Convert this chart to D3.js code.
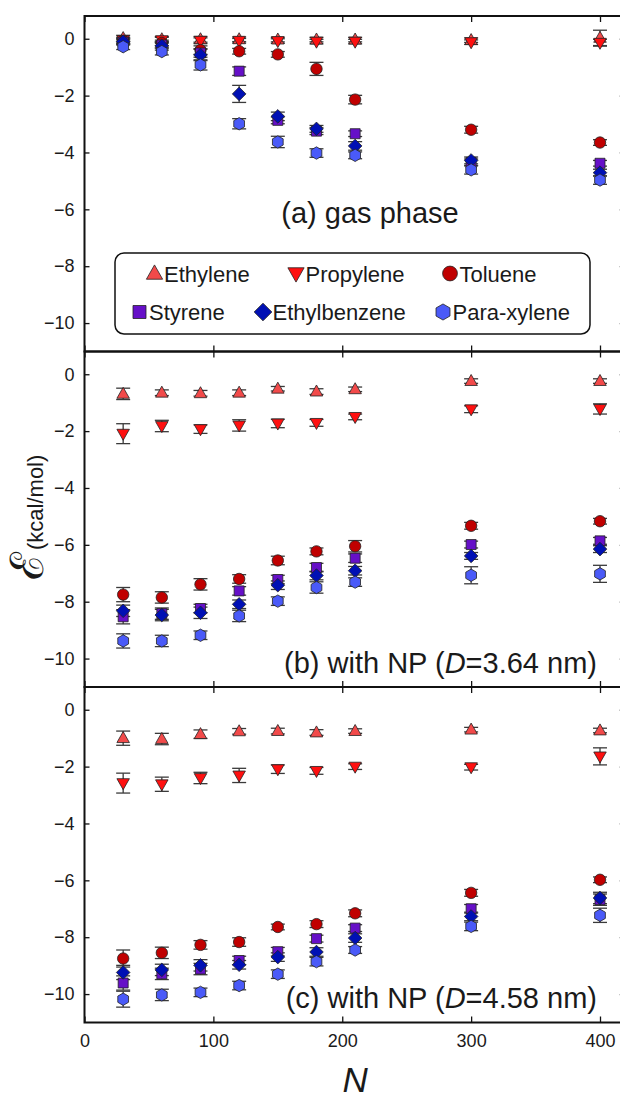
<!DOCTYPE html>
<html>
<head>
<meta charset="utf-8">
<script src="https://cdn.jsdelivr.net/npm/d3@7"></script>
<style>
  body { margin: 0; background: #fff; }
  text { font-family: "Liberation Sans", Arial, sans-serif; fill: #1a1a1a; }
</style>
</head>
<body>
<div id="chart"></div>
<script>
// chain lengths
var chainN = [30, 60, 90, 120, 150, 180, 210, 300, 400];

var speciesNames = ["Ethylene", "Propylene", "Toluene", "Styrene", "Ethylbenzene", "Para-xylene"];
var speciesColors = ["#f24a4a", "#ff1010", "#c00000", "#6610c8", "#0010b4", "#4a5af8"];
var speciesShapes = ["up", "down", "circle", "square", "diamond", "hexagon"];

// (a) gas phase
var gasEthylene     = [0.02, -0.02, -0.02, -0.02, -0.03, -0.03, -0.03, -0.05, 0.03];
var gasPropylene    = [-0.05, -0.05, -0.07, -0.07, -0.08, -0.1, -0.1, -0.12, -0.14];
var gasToluene      = [-0.08, -0.15, -0.4, -0.44, -0.55, -1.06, -2.14, -3.2, -3.65];
var gasStyrene      = [-0.12, -0.22, -0.5, -1.14, -2.87, -3.25, -3.34, -4.35, -4.38];
var gasEthylbenzene = [-0.1, -0.25, -0.57, -1.94, -2.73, -3.17, -3.77, -4.28, -4.71];
var gasParaxylene   = [-0.28, -0.45, -0.92, -2.99, -3.63, -4.02, -4.1, -4.61, -4.97];
var gasErr = [
  [0.1, 0.1, 0.1, 0.08, 0.08, 0.08, 0.08, 0.08, 0.27],
  [0.1, 0.1, 0.1, 0.08, 0.08, 0.08, 0.08, 0.08, 0.12],
  [0.1, 0.1, 0.15, 0.1, 0.1, 0.23, 0.15, 0.12, 0.1],
  [0.1, 0.1, 0.15, 0.15, 0.12, 0.12, 0.1, 0.12, 0.1],
  [0.1, 0.15, 0.2, 0.3, 0.15, 0.12, 0.15, 0.12, 0.12],
  [0.1, 0.12, 0.18, 0.18, 0.2, 0.15, 0.12, 0.15, 0.15]
];

// (b) with NP, D = 3.64 nm
var np364Ethylene     = [-0.69, -0.65, -0.67, -0.65, -0.51, -0.61, -0.53, -0.24, -0.24];
var np364Propylene    = [-2.09, -1.82, -1.93, -1.8, -1.73, -1.71, -1.5, -1.23, -1.22];
var np364Toluene      = [-7.75, -7.85, -7.39, -7.2, -6.55, -6.23, -6.05, -5.33, -5.17];
var np364Styrene      = [-8.53, -8.42, -8.24, -7.62, -7.22, -6.8, -6.47, -5.99, -5.86];
var np364Ethylbenzene = [-8.32, -8.47, -8.39, -8.09, -7.42, -7.08, -6.91, -6.39, -6.15];
var np364Paraxylene   = [-9.38, -9.38, -9.18, -8.5, -7.98, -7.5, -7.31, -7.07, -7.02];
var np364Err = [
  [0.2, 0.1, 0.1, 0.1, 0.08, 0.1, 0.08, 0.08, 0.08],
  [0.35, 0.2, 0.15, 0.2, 0.15, 0.12, 0.1, 0.12, 0.18],
  [0.25, 0.2, 0.2, 0.15, 0.15, 0.12, 0.2, 0.12, 0.1],
  [0.25, 0.2, 0.15, 0.15, 0.15, 0.15, 0.15, 0.12, 0.12],
  [0.2, 0.2, 0.2, 0.15, 0.15, 0.15, 0.15, 0.12, 0.12],
  [0.25, 0.2, 0.15, 0.2, 0.15, 0.2, 0.15, 0.3, 0.3]
];

// (c) with NP, D = 4.58 nm
var np458Ethylene     = [-1.0, -1.03, -0.86, -0.76, -0.75, -0.8, -0.75, -0.7, -0.73];
var np458Propylene    = [-2.58, -2.62, -2.4, -2.31, -2.09, -2.15, -2.0, -2.02, -1.64];
var np458Toluene      = [-8.75, -8.55, -8.27, -8.17, -7.64, -7.54, -7.16, -6.44, -5.98];
var np458Styrene      = [-9.61, -9.29, -9.12, -8.82, -8.51, -8.05, -7.68, -7.0, -6.68];
var np458Ethylbenzene = [-9.24, -9.15, -8.99, -8.97, -8.7, -8.52, -8.03, -7.27, -6.62];
var np458Paraxylene   = [-10.18, -10.03, -9.94, -9.7, -9.3, -8.86, -8.45, -7.62, -7.23];
var np458Err = [
  [0.25, 0.2, 0.15, 0.1, 0.1, 0.1, 0.08, 0.08, 0.08],
  [0.35, 0.25, 0.2, 0.25, 0.15, 0.12, 0.1, 0.1, 0.3],
  [0.3, 0.2, 0.15, 0.15, 0.1, 0.12, 0.12, 0.12, 0.1],
  [0.25, 0.2, 0.2, 0.15, 0.15, 0.12, 0.12, 0.15, 0.2],
  [0.25, 0.2, 0.2, 0.15, 0.15, 0.15, 0.15, 0.15, 0.2],
  [0.28, 0.2, 0.15, 0.15, 0.15, 0.15, 0.12, 0.15, 0.25]
];

var xTicks = [0, 100, 200, 300, 400];
var yTicks = [-10, -8, -6, -4, -2, 0];

var panels = [
  {series: [gasEthylene, gasPropylene, gasToluene, gasStyrene, gasEthylbenzene, gasParaxylene], err: gasErr},
  {series: [np364Ethylene, np364Propylene, np364Toluene, np364Styrene, np364Ethylbenzene, np364Paraxylene], err: np364Err},
  {series: [np458Ethylene, np458Propylene, np458Toluene, np458Styrene, np458Ethylbenzene, np458Paraxylene], err: np458Err}
];

var width = 620, height = 1099;
var panelTop = 16, panelHeight = 335.5;

var svg = d3.select("#chart").append("svg")
  .attr("width", width)
  .attr("height", height);

var x = d3.scaleLinear().domain([0, 420]).range([84.5, 84.5 + 420 * 1.28875]);

// marker shapes, s scales the size
function shapePath(kind, s) {
  var p = d3.path();
  if (kind == "up" || kind == "down") {
    var w = 12.5 * s, h = 11 * s, k = kind == "up" ? 1 : -1;
    p.moveTo(0, -k * h * 0.6);
    p.lineTo(w / 2, k * h * 0.4);
    p.lineTo(-w / 2, k * h * 0.4);
    p.closePath();
  } else if (kind == "circle") {
    p.arc(0, 0, 5.7 * s, 0, 2 * Math.PI);
  } else if (kind == "square") {
    var a = 5 * s;
    p.rect(-a, -a, 2 * a, 2 * a);
  } else if (kind == "diamond") {
    var d = 6.8 * s;
    p.moveTo(0, -d); p.lineTo(d, 0); p.lineTo(0, d); p.lineTo(-d, 0); p.closePath();
  } else {
    var r = 6.2 * s;
    for (var i = 0; i < 6; i++) {
      var ang = Math.PI / 3 * i - Math.PI / 2;
      if (i == 0) p.moveTo(r * Math.cos(ang), r * Math.sin(ang));
      else p.lineTo(r * Math.cos(ang), r * Math.sin(ang));
    }
    p.closePath();
  }
  return p.toString();
}

panels.forEach(function(panel, pi) {
  var top = panelTop + pi * panelHeight;
  var y = d3.scaleLinear().domain([-11, 0.8]).range([top + panelHeight, top]);
  var g = svg.append("g");

  // error bars first
  panel.series.forEach(function(vals, si) {
    var pts = chainN.map(function(n, i) { return {n: n, v: vals[i], e: panel.err[si][i]}; });
    var eb = g.append("g").selectAll("g").data(pts).enter().append("g")
      .attr("stroke", "#3a3a3a").attr("stroke-width", 1.3);
    eb.append("line")
      .attr("x1", d => x(d.n)).attr("x2", d => x(d.n))
      .attr("y1", d => y(d.v - d.e)).attr("y2", d => y(d.v + d.e));
    eb.append("line")
      .attr("x1", d => x(d.n) - 7).attr("x2", d => x(d.n) + 7)
      .attr("y1", d => y(d.v - d.e)).attr("y2", d => y(d.v - d.e));
    eb.append("line")
      .attr("x1", d => x(d.n) - 7).attr("x2", d => x(d.n) + 7)
      .attr("y1", d => y(d.v + d.e)).attr("y2", d => y(d.v + d.e));
  });

  // markers
  panel.series.forEach(function(vals, si) {
    g.append("g").selectAll("path").data(vals).enter().append("path")
      .attr("d", shapePath(speciesShapes[si], 1))
      .attr("transform", (d, i) => "translate(" + x(chainN[i]) + "," + y(d) + ")")
      .attr("fill", speciesColors[si])
      .attr("stroke", "#222")
      .attr("stroke-width", 0.8);
  });

  // axes, ticks pointing inward
  var yAxis = svg.append("g")
    .attr("transform", "translate(" + x(0) + ",0)")
    .call(d3.axisLeft(y).tickValues(yTicks).tickSizeInner(-5).tickSizeOuter(0).tickPadding(10));
  yAxis.select(".domain").remove();
  yAxis.selectAll("text").style("font-size", "18px").style("font-family", "Liberation Sans, Arial, sans-serif").attr("fill", "#1a1a1a");
  yAxis.selectAll("line").attr("stroke", "#111").attr("stroke-width", 1.3);

  var yRight = svg.append("g")
    .attr("transform", "translate(" + x(420) + ",0)")
    .call(d3.axisRight(y).tickValues(yTicks).tickSizeInner(-6).tickSizeOuter(0).tickFormat(""));
  yRight.select(".domain").remove();
  yRight.selectAll("line").attr("stroke", "#111").attr("stroke-width", 1.3);

  var xTop = svg.append("g")
    .attr("transform", "translate(0," + top + ")")
    .call(d3.axisTop(x).tickValues(xTicks).tickSizeInner(-6).tickSizeOuter(0).tickFormat(""));
  xTop.select(".domain").remove();
  xTop.selectAll("line").attr("stroke", "#111").attr("stroke-width", 1.3);

  var xBottom = svg.append("g")
    .attr("transform", "translate(0," + (top + panelHeight) + ")")
    .call(d3.axisBottom(x).tickValues(xTicks).tickSizeInner(-6).tickSizeOuter(0).tickPadding(12)
      .tickFormat(pi == 2 ? d3.format("d") : ""));
  xBottom.select(".domain").remove();
  xBottom.selectAll("line").attr("stroke", "#111").attr("stroke-width", 1.3);
  xBottom.selectAll("text").style("font-size", "18px").style("font-family", "Liberation Sans, Arial, sans-serif").attr("fill", "#1a1a1a");

  // frame
  svg.append("rect")
    .attr("x", x(0)).attr("y", top)
    .attr("width", x(420) - x(0)).attr("height", panelHeight)
    .attr("fill", "none").attr("stroke", "#111").attr("stroke-width", 2);
});

// panel captions
svg.append("text").attr("x", 370).attr("y", 223).attr("text-anchor", "middle")
  .style("font-size", "29px").text("(a) gas phase");

var capB = svg.append("text").attr("x", 597).attr("y", 673).attr("text-anchor", "end").style("font-size", "29px");
capB.append("tspan").text("(b) with NP (");
capB.append("tspan").style("font-style", "italic").text("D");
capB.append("tspan").text("=3.64 nm)");

var capC = svg.append("text").attr("x", 597).attr("y", 1008).attr("text-anchor", "end").style("font-size", "29px");
capC.append("tspan").text("(c) with NP (");
capC.append("tspan").style("font-style", "italic").text("D");
capC.append("tspan").text("=4.58 nm)");

// legend
svg.append("rect")
  .attr("x", 115).attr("y", 253).attr("width", 475).attr("height", 81)
  .attr("rx", 9).attr("fill", "#fff").attr("stroke", "#111").attr("stroke-width", 1.5);

var legendX = [154.5, 296, 450, 139.5, 263, 443];
var legendY = [273.5, 273.5, 273.5, 312, 312, 312];
speciesNames.forEach(function(name, i) {
  svg.append("path")
    .attr("d", shapePath(speciesShapes[i], 1.3))
    .attr("transform", "translate(" + legendX[i] + "," + legendY[i] + ")")
    .attr("fill", speciesColors[i]).attr("stroke", "#222").attr("stroke-width", 0.8);
  svg.append("text")
    .attr("x", legendX[i] + 9.5).attr("y", legendY[i] + 8)
    .style("font-size", "22px").text(name);
});

// axis titles
svg.append("text").attr("x", x(210)).attr("y", 1092).attr("text-anchor", "middle")
  .style("font-size", "35px").style("font-style", "italic").text("N");

var yTitle = svg.append("text").attr("transform", "translate(43,580) rotate(-90)");
yTitle.append("tspan").style("font-size", "46px").style("font-family", "DejaVu Serif, serif").text("ℰ");
yTitle.append("tspan").attr("dx", 2).style("font-size", "22px").text("(kcal/mol)");
</script>
</body>
</html>
